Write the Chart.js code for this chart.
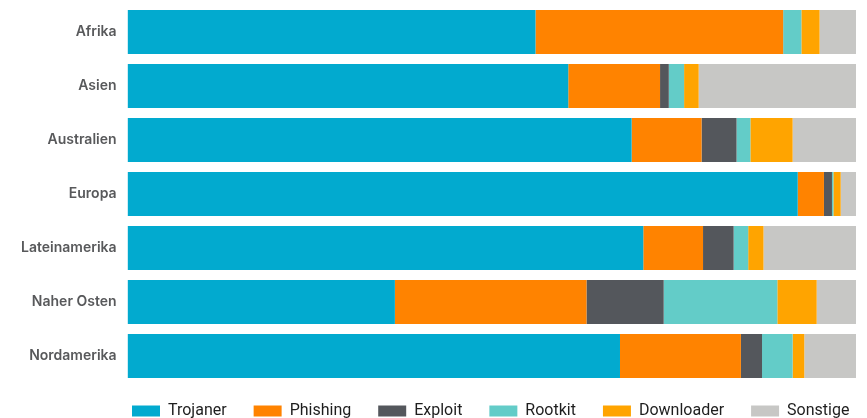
<!DOCTYPE html>
<html>
<head>
<meta charset="utf-8">
<script src="https://cdn.jsdelivr.net/npm/chart.js@4/dist/chart.umd.min.js"></script>
<style>
    html, body { margin: 0; padding: 0; background: #fff; }
    #wrap { width: 867px; height: 418px; position: relative; }
</style>
</head>
<body>
<div id="wrap"><canvas id="malwareChart"></canvas></div>
<script>
const regions = ['Afrika', 'Asien', 'Australien', 'Europa', 'Lateinamerika', 'Naher Osten', 'Nordamerika'];

const trojaner   = [56.0, 60.5, 69.2, 92.0, 70.8, 36.7, 67.6];
const phishing   = [34.0, 12.6,  9.6,  3.6,  8.2, 26.3, 16.6];
const exploit    = [ 0.0,  1.2,  4.8,  1.1,  4.2, 10.6,  2.9];
const rootkit    = [ 2.5,  2.1,  1.9,  0.2,  2.0, 15.6,  4.2];
const downloader = [ 2.5,  2.0,  5.8,  1.0,  2.1,  5.4,  1.6];
const sonstige   = [ 5.0, 21.6,  8.7,  2.1, 12.7,  5.4,  7.1];

const seriesNames = ['Trojaner', 'Phishing', 'Exploit', 'Rootkit', 'Downloader', 'Sonstige'];
const seriesData = [trojaner, phishing, exploit, rootkit, downloader, sonstige];
const seriesColors = ['#02aacf', '#ff8300', '#54575c', '#63ccc8', '#ffa400', '#c7c7c5'];

// legend sits under the bars, starting roughly where the bars start
const legendPlacement = {
    id: 'legendPlacement',
    beforeInit(chart) {
        const legend = chart.legend;
        if (!legend) return;
        const origFit = legend.fit;
        legend.fit = function () {
            origFit.call(this);
            this.height = 35;
        };
    },
    beforeDraw(chart) {
        const legend = chart.legend;
        if (!legend) return;
        const pad = legend.options.labels.padding;
        legend.left = 132 - pad;
        legend.right = chart.width + 50;
        legend.top = 403 - pad;
    }
};

document.addEventListener('DOMContentLoaded', function () {
    const ctx = document.getElementById('malwareChart').getContext('2d');

    new Chart(ctx, {
        type: 'bar',
        data: {
            labels: regions,
            datasets: seriesNames.map((name, i) => ({
                label: name,
                data: seriesData[i],
                backgroundColor: seriesColors[i],
                borderWidth: 0,
                barPercentage: 0.815,
                categoryPercentage: 1
            }))
        },
        options: {
            indexAxis: 'y',
            responsive: true,
            maintainAspectRatio: false,
            animation: false,
            layout: {
                padding: { top: 5, right: 11, bottom: 0, left: 18 }
            },
            plugins: {
                legend: {
                    position: 'bottom',
                    align: 'start',
                    labels: {
                        boxWidth: 28,
                        boxHeight: 11,
                        padding: 27,
                        color: '#1e1e1e',
                        font: { family: 'Roboto', size: 16, weight: '400' }
                    }
                },
                tooltip: { enabled: false }
            },
            scales: {
                x: {
                    stacked: true,
                    min: 0,
                    max: 100,
                    display: false
                },
                y: {
                    stacked: true,
                    grid: { display: false },
                    border: { display: false },
                    afterFit: function (scale) {
                        scale.paddingTop = 0;
                        scale.paddingBottom = 0;
                    },
                    ticks: {
                        padding: 3,
                        color: '#58595b',
                        font: { family: 'Inter', size: 14, weight: '600' }
                    }
                }
            }
        },
        plugins: [legendPlacement]
    });
});
</script>
</body>
</html>
